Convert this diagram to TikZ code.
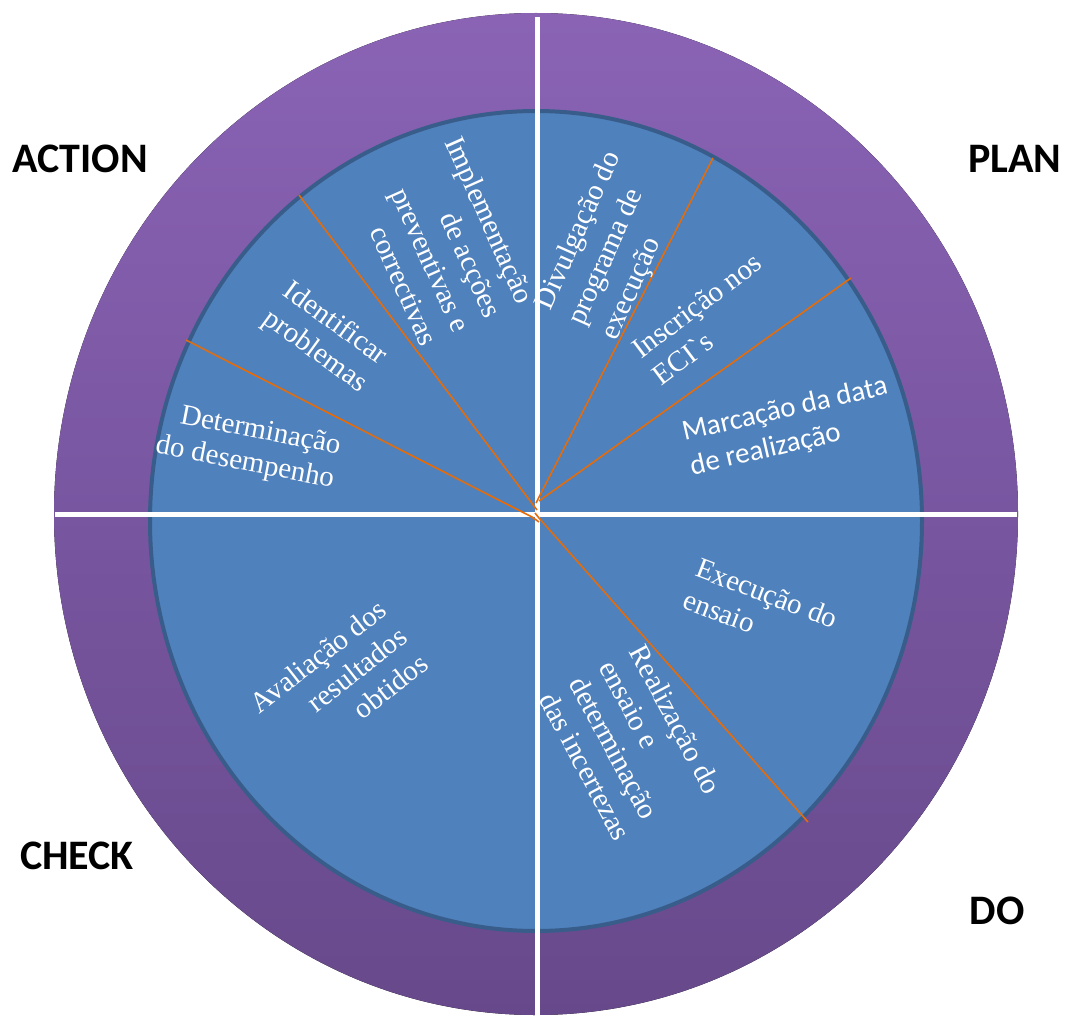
\documentclass[tikz,border=0pt]{standalone}
\usepackage{fontspec}
\setmainfont{Liberation Serif}
\newfontfamily\plainserif{Liberation Serif}
\newfontfamily\calibri{Carlito}
\definecolor{ringtop}{RGB}{138,99,181}
\definecolor{ringbot}{RGB}{103,73,139}
\definecolor{disc}{RGB}{79,129,189}
\definecolor{discedge}{RGB}{56,93,138}
\definecolor{spoke}{RGB}{228,108,10}
\begin{document}
\begin{tikzpicture}[x=1pt,y=-1pt,line width=1pt,
  every node/.style={text=white,inner sep=0pt,align=center,font=\fontsize{29}{34}\selectfont},
  phase/.style={text=black,font=\calibri\bfseries\fontsize{42}{46}\selectfont},
  sans/.style={font=\calibri\fontsize{29}{35}\selectfont},
  spoke/.style={draw=spoke,line width=1.6pt}]
\useasboundingbox (0,0) rectangle (1066,1025);
\coordinate (C) at (536,514);
\coordinate (top) at (537,17);
\coordinate (bot) at (537,1025);
\coordinate (lft) at (55,514);
\coordinate (rgt) at (1017,514);
% rim points of the spokes
\coordinate (A) at (299,195);
\coordinate (B) at (186,340);
\coordinate (P) at (713,158);
\coordinate (Q) at (851,278);
\coordinate (R) at (808,822);
% ring and disc
\fill[top color=ringtop,bottom color=ringbot] (C) ellipse[x radius=482pt,y radius=501pt];
\draw[fill=disc,draw=discedge,line width=4pt] (536,521) ellipse[x radius=386pt,y radius=410pt];
\draw[white,line width=5pt] (top) -- (bot);
\draw[white,line width=5pt] (lft) -- (rgt);
% spokes
\draw[spoke] (A) -- (537,510);
\draw[spoke] (B) -- (532,517) -- (539,522);
\draw[spoke] (P) -- (536,503);
\draw[spoke] (Q) -- (539,501);
\draw[spoke] (R) -- (539,518) -- (535,513);
% texts
\node[rotate=-66,align=right,font=\fontsize{29}{35}\selectfont] (impl) at (442,241) {Implementação\\de acções\\preventivas e\\correctivas};
\node[rotate=66,align=left,font=\fontsize{29}{36}\selectfont] (divul) at (612,246) {Divulgação do\\programa de\\execução};
\node[rotate=37,align=left] (inscr) at (707,319) {Inscrição nos\\ECI{\plainserif`}s};
\node[rotate=13,align=left,sans] (marc) at (789,427) {Marcação da data\\de realização};
\node[rotate=-36,align=left] (ident) at (325,338) {Identificar\\problemas};
\node[rotate=-11,align=right] (deter) at (248,447) {Determinação\\do desempenho};
\node[rotate=-21,align=left] (exec) at (761,609) {Execução do\\ensaio};
\node[rotate=-62,align=left] (realiz) at (631,743) {Realização do\\ensaio e\\determinação\\das incertezas};
\node[rotate=38,align=right] (aval) at (339,683) {Avaliação dos\\resultados\\obtidos};
% phases
\node[phase] (action) at (80,159) {ACTION};
\node[phase] (plan) at (1015,159) {PLAN};
\node[phase] (check) at (77,856) {CHECK};
\node[phase] (do) at (997,911) {DO};
\end{tikzpicture}
\end{document}
